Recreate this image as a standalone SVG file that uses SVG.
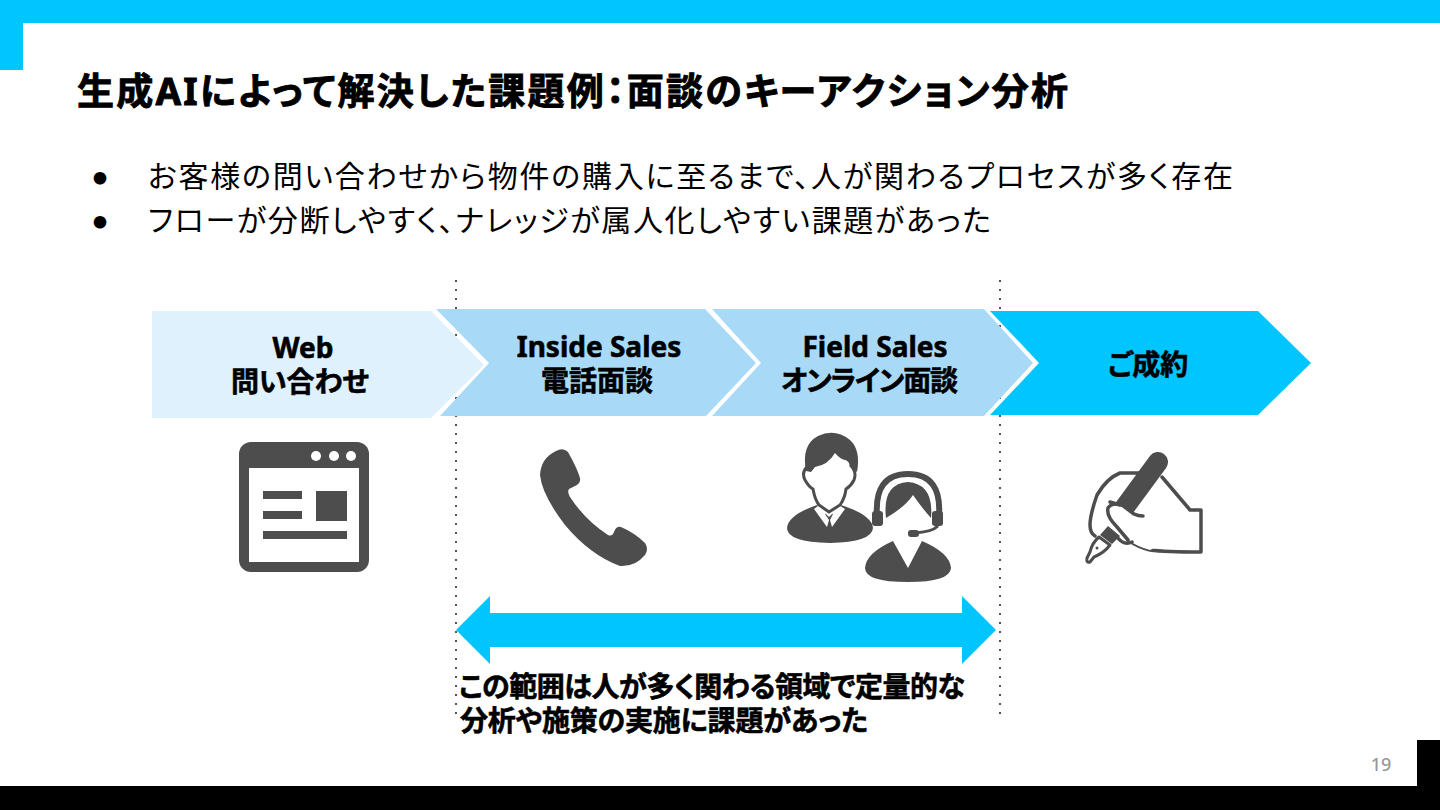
<svg xmlns="http://www.w3.org/2000/svg" width="1440" height="810" viewBox="0 0 1440 810">
<style>
text{font-family:"Noto Sans","Noto Sans CJK JP",sans-serif;fill:#000;font-feature-settings:"palt"}
.b{font-weight:700;stroke:#000;stroke-width:.6px}
.t{font-size:37px;font-weight:700;stroke:#000;stroke-width:.9px}
.l{font-size:30px}
.d{font-size:14px}
.c{font-size:28px;text-anchor:middle}
.n{font-size:28px}
.i{fill:#4d4d4d}
.o{fill:none;stroke:#4d4d4d;stroke-width:3.5;stroke-linejoin:round;stroke-linecap:round}
</style>
<rect width="1440" height="810" fill="#fff"/>
<g id="frame">
<rect x="0" y="0" width="1440" height="23" fill="#00c5ff"/>
<rect x="0" y="0" width="23" height="70" fill="#00c5ff"/>
<rect x="0" y="786" width="1440" height="24" fill="#000"/>
<rect x="1417" y="740" width="23" height="70" fill="#000"/>
</g>
<g id="title"><text class="t" x="77" y="105" textLength="991" lengthAdjust="spacing">生成AIによって解決した課題例：面談のキーアクション分析</text></g>
<g id="bullets">
<text class="d" x="93" y="183">●</text>
<text class="l" x="148" y="187" textLength="1085" lengthAdjust="spacing">お客様の問い合わせから物件の購入に至るまで、人が関わるプロセスが多く存在</text>
<text class="d" x="93" y="227">●</text>
<text class="l" x="148" y="231" textLength="843" lengthAdjust="spacing">フローが分断しやすく、ナレッジが属人化しやすい課題があった</text>
</g>
<g id="connectors">
<line x1="456" y1="280" x2="456" y2="715" stroke="#555" stroke-width="2" stroke-dasharray="2 7"/>
<line x1="1000" y1="280" x2="1000" y2="715" stroke="#555" stroke-width="2" stroke-dasharray="2 7"/>
<path id="range-arrow" d="M456 630L490 596V613H962V596L996 630L962 664V647H490V664Z" fill="#00c5ff"/>
</g>
<g id="node-web">
<path d="M152 311H431L484 365L431 418H152Z" fill="#dff1fd"/>
<text class="c b" x="303" y="358">Web</text>
<text class="c b" x="300" y="392">問い合わせ</text>
<rect class="i" x="239" y="442" width="130" height="130" rx="12"/>
<rect x="249" y="468" width="110" height="94" fill="#fff"/>
<circle cx="316" cy="456" r="5" fill="#fff"/><circle cx="334" cy="456" r="5" fill="#fff"/><circle cx="351" cy="456" r="5" fill="#fff"/>
<rect class="i" x="263" y="491" width="39" height="8"/><rect class="i" x="263" y="511" width="39" height="8"/>
<rect class="i" x="316" y="491" width="31" height="30"/><rect class="i" x="263" y="531" width="84" height="8"/>
</g>
<g id="node-inside">
<path d="M436 309H705L756 363L706 416H440L489 363Z" fill="#a8daf8"/>
<text class="c b" x="599" y="357">Inside Sales</text>
<text class="c b" x="597" y="391">電話面談</text>
<path class="i" d="M556 451Q563 447 568 452Q577 468 580 478Q581 483 575 486L569 489Q567 492 570 497Q585 520 608 535Q612 537 614 532Q616 526 621 527Q635 533 645 543Q649 549 645 555Q635 567 620 566Q590 555 565 525Q542 495 540 475Q541 458 556 451Z"/>
</g>
<g id="node-field">
<path d="M712 309H984L1033 363L984 416H712L761 363Z" fill="#a8daf8"/>
<text class="c b" x="875" y="357">Field Sales</text>
<text class="c b" x="781" y="391" style="text-anchor:start" textLength="177" lengthAdjust="spacing">オンライン面談</text>
<path class="i" d="M787 528Q788 515 817 505L829 517L841 505Q872 515 873 528Q872 542 830 543Q787 542 787 528Z"/>
<path d="M814 509L827 527L829 520L825 514L829 511L833 514L830 520L832 527L845 509L836 503H822Z" fill="#fff"/>
<path d="M808 466Q801 472 805 480Q809 487 813 489Q815 500 819 505L829 512L840 505Q845 498 846 489Q851 486 854 480Q857 472 851 466L850 450H810Z" fill="#fff" stroke="#4d4d4d" stroke-width="3"/>
<path class="i" d="M806 471Q801 445 818 436Q835 428 850 440Q861 450 857 472L852 468Q848 460 845 460Q840 459 835 453Q828 465 815 467L811 472Z"/>
<path class="i" d="M865 568Q866 553 893 541L908 568L922 541Q950 553 951 568Q950 582 908 582Q865 582 865 568Z"/>
<path d="M877 516Q874 474 908 474Q942 474 939 516" fill="none" stroke="#4d4d4d" stroke-width="6"/>
<path class="i" d="M886 518Q882 484 908 482Q934 484 931 518Q922 508 913 495Q905 507 886 518Z"/>
<rect class="i" x="872" y="511" width="11" height="15" rx="3"/><rect class="i" x="932" y="511" width="11" height="15" rx="3"/>
<path d="M938 526Q932 532 914 533" fill="none" stroke="#4d4d4d" stroke-width="3"/>
<rect class="i" x="908" y="530" width="11" height="7" rx="3"/>
</g>
<g id="node-contract">
<path d="M990 311H1258L1311 363L1258 415H990L1039 363Z" fill="#00c5ff"/>
<text class="c b" x="1148" y="375">ご成約</text>
<path class="o" d="M1140 473L1120 473Q1107 478 1097 495Q1090 515 1090 525Q1090 533 1095 536"/>
<path class="o" d="M1162 477L1190 510H1201V552Q1165 552 1150 550Q1138 547 1128 540"/>
<path d="M1158 462L1122 511" stroke="#4d4d4d" stroke-width="20" stroke-linecap="round" fill="none"/>
<path d="M1143 516L1134 514L1122 505Q1112 502 1108 508Q1106 516 1117 527L1128 540Q1138 547 1150 550L1170 540L1160 516Z" fill="#fff"/>
<path class="o" d="M1128 540L1117 527Q1106 516 1108 508Q1112 502 1122 505L1134 514Q1138 516 1143 516"/>
<path class="o" d="M1110 502L1120 505M1117 537Q1124 546 1132 542"/>
<path class="i" d="M1108 526L1120 536L1112 544L1100 535Z"/>
<path d="M1099 537L1110 545Q1104 553 1094 557L1090 562Q1086 563 1087 558L1090 552Q1092 543 1099 537Z" fill="#fff" stroke="#4d4d4d" stroke-width="3" stroke-linejoin="round"/>
<circle class="i" cx="1097" cy="548" r="1.5"/>
</g>
<g id="range-label">
<text class="n b" x="459" y="697" textLength="506" lengthAdjust="spacing">この範囲は人が多く関わる領域で定量的な</text>
<text class="n b" x="460" y="731" textLength="408" lengthAdjust="spacing">分析や施策の実施に課題があった</text>
</g>
<g id="page"><text x="1381" y="771" text-anchor="middle" style="font-size:18px;font-weight:500;fill:#999">19</text></g>
</svg>
